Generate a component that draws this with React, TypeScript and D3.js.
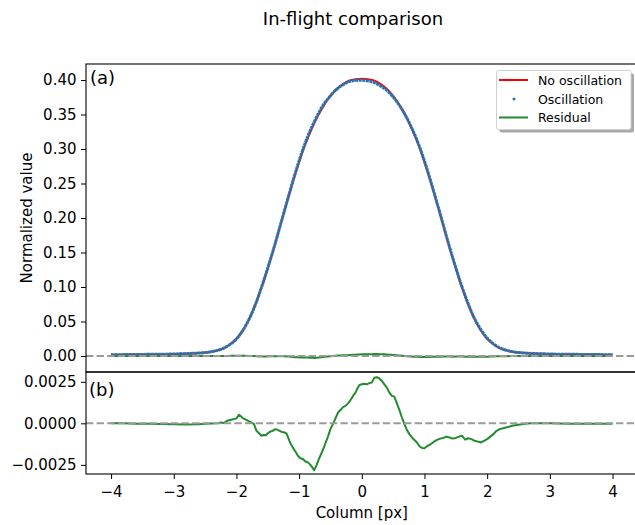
import * as d3 from "d3";
import { useEffect, useRef } from "react";

// profile sampled every 0.1 px from -4 to 4
const columns = [
  -4.0, -3.9, -3.8, -3.7, -3.6, -3.5, -3.4, -3.3, -3.2, -3.1,
  -3.0, -2.9, -2.8, -2.7, -2.6, -2.5, -2.4, -2.3, -2.2, -2.1,
  -2.0, -1.9, -1.8, -1.7, -1.6, -1.5, -1.4, -1.3, -1.2, -1.1,
  -1.0, -0.9, -0.8, -0.7, -0.6, -0.5, -0.4, -0.3, -0.2, -0.1,
  0.0, 0.1, 0.2, 0.3, 0.4, 0.5, 0.6, 0.7, 0.8, 0.9,
  1.0, 1.1, 1.2, 1.3, 1.4, 1.5, 1.6, 1.7, 1.8, 1.9,
  2.0, 2.1, 2.2, 2.3, 2.4, 2.5, 2.6, 2.7, 2.8, 2.9,
  3.0, 3.1, 3.2, 3.3, 3.4, 3.5, 3.6, 3.7, 3.8, 3.9, 4.0,
];

const noOscillation = [
  0.0018, 0.0019, 0.002, 0.0021, 0.0022, 0.0023, 0.0024, 0.0025, 0.0026, 0.0027,
  0.0029, 0.0031, 0.0034, 0.0037, 0.0042, 0.005, 0.0062, 0.0082, 0.0115, 0.017,
  0.025, 0.037, 0.053, 0.074, 0.099, 0.127, 0.157, 0.189, 0.221, 0.252,
  0.281, 0.307, 0.329, 0.348, 0.364, 0.377, 0.387, 0.394, 0.399, 0.401,
  0.402, 0.401, 0.399, 0.394, 0.387, 0.377, 0.364, 0.348, 0.329, 0.307,
  0.281, 0.252, 0.221, 0.189, 0.157, 0.127, 0.099, 0.074, 0.053, 0.037,
  0.025, 0.017, 0.0115, 0.0082, 0.0062, 0.005, 0.0042, 0.0037, 0.0034, 0.0031,
  0.0029, 0.0027, 0.0026, 0.0025, 0.0024, 0.0023, 0.0022, 0.0021, 0.002, 0.0019, 0.0018,
];

const oscillation = [
  0.0018, 0.0019, 0.002, 0.0021, 0.0022, 0.0023, 0.0024, 0.0025, 0.0026, 0.0027,
  0.0029, 0.0031, 0.0035, 0.0038, 0.0043, 0.005, 0.0062, 0.0082, 0.0115, 0.0168,
  0.0247, 0.0367, 0.0529, 0.0741, 0.0997, 0.1276, 0.1574, 0.1894, 0.2216, 0.2534,
  0.283, 0.3093, 0.3316, 0.3502, 0.3658, 0.3773, 0.3866, 0.393, 0.3978, 0.3993,
  0.3996, 0.3986, 0.3962, 0.3913, 0.3849, 0.3754, 0.3633, 0.3482, 0.3298, 0.3084,
  0.2825, 0.2532, 0.222, 0.1899, 0.1578, 0.1279, 0.0998, 0.075, 0.054, 0.0381,
  0.0259, 0.0176, 0.0119, 0.0084, 0.0063, 0.005, 0.0042, 0.0037, 0.0034, 0.0031,
  0.0029, 0.0027, 0.0026, 0.0025, 0.0024, 0.0023, 0.0022, 0.0021, 0.002, 0.0019, 0.0018,
];

// residual, read at finer spacing where it moves
const residualX = [
  -4.0, -3.8, -3.6, -3.4, -3.2, -3.0, -2.8, -2.6, -2.5, -2.4, -2.3, -2.25, -2.2, -2.15,
  -2.1, -2.05, -2.0, -1.96, -1.93, -1.9, -1.85, -1.8, -1.76, -1.72, -1.68, -1.64, -1.6,
  -1.57, -1.53, -1.5, -1.46, -1.42, -1.38, -1.35, -1.31, -1.27, -1.23, -1.2, -1.17, -1.14,
  -1.1, -1.06, -1.02, -0.98, -0.94, -0.9, -0.86, -0.82, -0.79, -0.76, -0.72, -0.69, -0.65,
  -0.61, -0.58, -0.54, -0.5, -0.46, -0.42, -0.38, -0.34, -0.3, -0.26, -0.22, -0.18, -0.14,
  -0.1, -0.07, -0.04, 0.0, 0.04, 0.08, 0.12, 0.16, 0.2, 0.24, 0.28, 0.32, 0.36, 0.4,
  0.44, 0.48, 0.52, 0.56, 0.6, 0.64, 0.68, 0.72, 0.76, 0.8, 0.84, 0.88, 0.92, 0.96,
  1.0, 1.04, 1.08, 1.12, 1.16, 1.2, 1.25, 1.3, 1.35, 1.4, 1.45, 1.5, 1.55, 1.6,
  1.65, 1.7, 1.75, 1.8, 1.85, 1.9, 1.95, 2.0, 2.05, 2.1, 2.15, 2.2, 2.3, 2.4,
  2.5, 2.6, 2.7, 3.0, 3.3, 3.6, 4.0,
];

const residual = [
  0.0, 0.0, -0.00002, -0.00003, -0.00004, -0.00005, -0.00007, -0.00005, -0.00003, -0.00001, 0.0, 0.00005, 0.00002, 0.00015,
  0.0002, 0.00025, 0.0003, 0.00052, 0.00042, 0.00032, 0.00022, 0.00012, 0.00005, -0.00005, -0.00045, -0.0006, -0.00075,
  -0.0007, -0.00072, -0.0006, -0.0005, -0.00045, -0.00035, -0.00038, -0.00045, -0.00052, -0.00055, -0.00062, -0.0009, -0.0012,
  -0.00145, -0.0017, -0.00195, -0.0021, -0.00215, -0.0023, -0.00235, -0.0025, -0.00265, -0.00282, -0.0025, -0.0022, -0.00185,
  -0.0015, -0.0012, -0.0008, -0.00035, -0.00005, 0.0003, 0.00065, 0.0008, 0.00098, 0.00105, 0.0012, 0.0014, 0.00165,
  0.00185, 0.0021, 0.0023, 0.00235, 0.00238, 0.00235, 0.00242, 0.00245, 0.00275, 0.00278, 0.0027, 0.00255, 0.00235, 0.00215,
  0.00185, 0.00165, 0.0016, 0.0012, 0.0008, 0.00035, -0.00005, -0.0004, -0.00065, -0.00085, -0.001, -0.00115, -0.00138, -0.00148,
  -0.0015, -0.00138, -0.0013, -0.0012, -0.00108, -0.001, -0.00092, -0.00088, -0.0008, -0.00085, -0.00092, -0.00088, -0.0008, -0.00075,
  -0.00098, -0.0009, -0.00095, -0.00105, -0.0011, -0.00115, -0.00105, -0.00095, -0.0008, -0.00065, -0.00045, -0.00035, -0.00025, -0.00015,
  -0.00008, -0.00002, 0.0, 0.0, -0.00002, -0.00003, -0.00002,
];

const topTicks = [0, 0.05, 0.1, 0.15, 0.2, 0.25, 0.3, 0.35, 0.4];
const bottomTicks = [-0.0025, 0, 0.0025];
const columnTicks = [-4, -3, -2, -1, 0, 1, 2, 3, 4];

const legendLabels = ["No oscillation", "Oscillation", "Residual"];

const FONT = "DejaVu Sans";
const RED = "#ff0000";
const BLUE = "#1f77b4";
const GREEN = "#228b2e";

export default function App() {
  const ref = useRef<SVGSVGElement>(null);

  useEffect(() => {
    const svg = d3.select(ref.current);
    svg.selectAll("*").remove();

    const left = 86, right = 637.6;
    const topA = 64, bottomA = 372, bottomB = 474;

    const x = d3.scaleLinear().domain([-4.4, 4.4]).range([left, right]);
    const yA = d3.scaleLinear().domain([-0.0232, 0.4232]).range([bottomA, topA]);
    const yB = d3.scaleLinear().domain([-0.00305, 0.00309]).range([bottomB, bottomA]);

    const minus = (s: string) => s.replace("-", "\u2212");

    // title
    svg.append("text")
      .attr("x", 353).attr("y", 25)
      .attr("text-anchor", "middle")
      .style("font-family", FONT).style("font-size", "18px")
      .text("In-flight comparison");

    const profile = columns.map((c, i) => ({ c, a: noOscillation[i], b: oscillation[i] }));
    const res = residualX.map((c, i) => ({ c, r: residual[i] }));

    // panel (a)
    const gA = svg.append("g");
    gA.append("path")
      .datum(profile)
      .attr("fill", "none").attr("stroke", RED).attr("stroke-width", 2)
      .attr("d", d3.line<any>().x(d => x(d.c)).y(d => yA(d.a)).curve(d3.curveCatmullRom));
    gA.append("path")
      .datum(profile)
      .attr("fill", "none").attr("stroke", BLUE).attr("stroke-width", 3)
      .attr("stroke-dasharray", "3 0.6")
      .attr("d", d3.line<any>().x(d => x(d.c)).y(d => yA(d.b)).curve(d3.curveCatmullRom));
    gA.append("path")
      .datum(res)
      .attr("fill", "none").attr("stroke", GREEN).attr("stroke-width", 2)
      .attr("d", d3.line<any>().x(d => x(d.c)).y(d => yA(d.r)));
    gA.append("line")
      .attr("x1", left).attr("x2", right)
      .attr("y1", yA(0)).attr("y2", yA(0))
      .attr("stroke", "#9a9a9a").attr("stroke-width", 2)
      .attr("stroke-dasharray", "7.4 3.2");

    // panel (b)
    const gB = svg.append("g");
    gB.append("path")
      .datum(res)
      .attr("fill", "none").attr("stroke", GREEN).attr("stroke-width", 2)
      .attr("stroke-linejoin", "round")
      .attr("d", d3.line<any>().x(d => x(d.c)).y(d => yB(d.r)));
    gB.append("line")
      .attr("x1", left).attr("x2", right)
      .attr("y1", yB(0)).attr("y2", yB(0))
      .attr("stroke", "#9a9a9a").attr("stroke-width", 2)
      .attr("stroke-dasharray", "7.4 3.2");

    // axes
    const styleAxis = (g: any) => {
      g.select(".domain").remove();
      g.selectAll("text").style("font-family", FONT).style("font-size", "15px").attr("fill", "#000");
      g.selectAll("line").attr("stroke", "#000");
    };
    svg.append("g").attr("transform", `translate(${left},0)`)
      .call(d3.axisLeft(yA).tickValues(topTicks).tickSize(5).tickSizeOuter(0).tickPadding(4.5)
        .tickFormat(d => d3.format(".2f")(d as number)))
      .call(styleAxis);
    svg.append("g").attr("transform", `translate(${left},0)`)
      .call(d3.axisLeft(yB).tickValues(bottomTicks).tickSize(5).tickSizeOuter(0).tickPadding(4.5)
        .tickFormat(d => minus(d3.format(".4f")(d as number))))
      .call(styleAxis);
    svg.append("g").attr("transform", `translate(0,${bottomB})`)
      .call(d3.axisBottom(x).tickValues(columnTicks).tickSize(5).tickSizeOuter(0).tickPadding(7)
        .tickFormat(d => minus(d3.format("d")(d as number))))
      .call(styleAxis);

    // frames
    [[topA, bottomA], [bottomA, bottomB]].forEach(([t, b]) => {
      svg.append("rect")
        .attr("x", left).attr("y", t)
        .attr("width", right - left).attr("height", b - t)
        .attr("fill", "none").attr("stroke", "#000").attr("stroke-width", 1.1);
    });

    // panel labels
    svg.append("text").attr("x", 90).attr("y", 84.4)
      .style("font-family", FONT).style("font-size", "18px").text("(a)");
    svg.append("text").attr("x", 89).attr("y", 396)
      .style("font-family", FONT).style("font-size", "18px").text("(b)");

    // axis labels
    svg.append("text")
      .attr("transform", "translate(27,218) rotate(-90)")
      .attr("text-anchor", "middle").attr("dominant-baseline", "central")
      .style("font-family", FONT).style("font-size", "15px")
      .text("Normalized value");
    svg.append("text")
      .attr("x", (left + right) / 2).attr("y", 518)
      .attr("text-anchor", "middle")
      .style("font-family", FONT).style("font-size", "15px")
      .text("Column [px]");

    // legend
    const lg = svg.append("g");
    lg.append("rect")
      .attr("x", 499.5).attr("y", 73.5).attr("width", 134.5).attr("height", 59)
      .attr("rx", 2).attr("fill", "#a9a9a9");
    lg.append("rect")
      .attr("x", 496.5).attr("y", 70.5).attr("width", 134.5).attr("height", 59)
      .attr("rx", 2).attr("fill", "#fff").attr("stroke", "#d0d0d0").attr("stroke-width", 1);
    const rowY = [80, 99, 117.5];
    lg.append("line").attr("x1", 499).attr("x2", 528).attr("y1", rowY[0]).attr("y2", rowY[0])
      .attr("stroke", RED).attr("stroke-width", 2);
    lg.append("circle").attr("cx", 514).attr("cy", rowY[1]).attr("r", 1.5).attr("fill", BLUE);
    lg.append("line").attr("x1", 499).attr("x2", 528).attr("y1", rowY[2]).attr("y2", rowY[2])
      .attr("stroke", GREEN).attr("stroke-width", 2);
    legendLabels.forEach((label, i) => {
      lg.append("text")
        .attr("x", 538).attr("y", rowY[i] + 4.5)
        .style("font-family", FONT).style("font-size", "12.5px")
        .text(label);
    });
  }, []);

  return (
    <svg
      ref={ref}
      width={635}
      height={525}
      style={{ position: "absolute", left: 0, top: 0, background: "#fff" }}
    />
  );
}
